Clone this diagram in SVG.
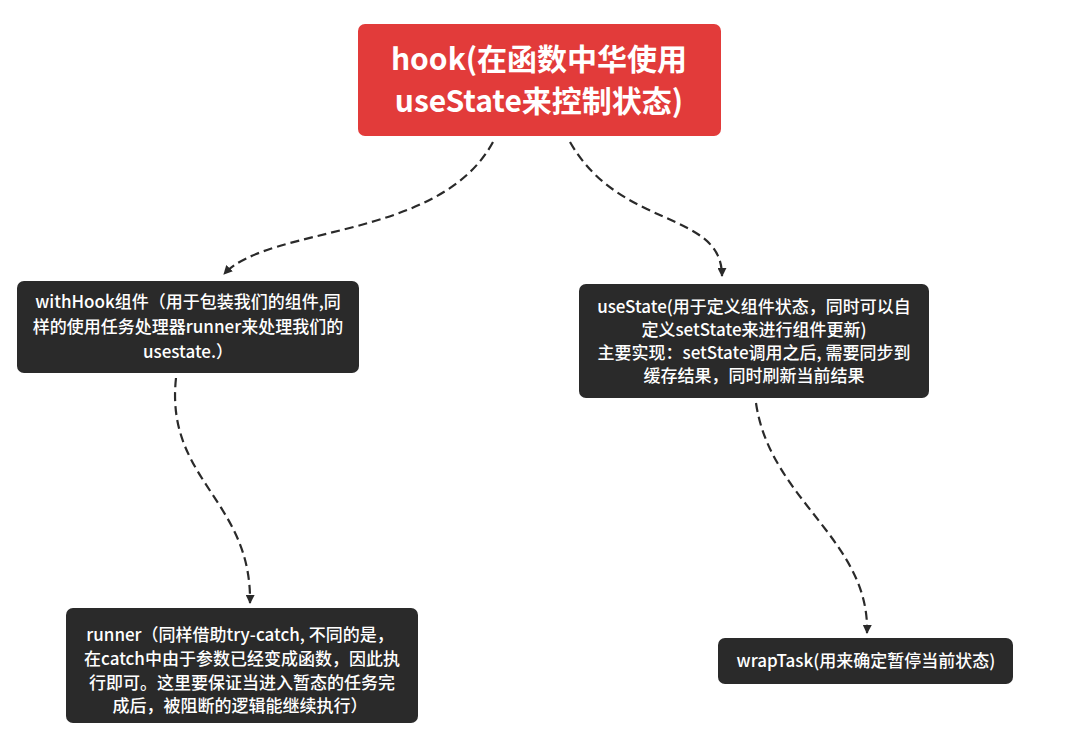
<svg xmlns="http://www.w3.org/2000/svg" width="1078" height="746" viewBox="0 0 1078 746">
<style>
.t{font-family:"Noto Sans CJK SC","Noto Sans",sans-serif;fill:#fff;text-anchor:middle}
.root{font-size:30px;font-weight:700}
.n{font-size:17px;font-weight:500}
.box{fill:#2a2a2a}
.edge{fill:none;stroke:#2a2a2a;stroke-width:2.2;stroke-dasharray:9 5}
</style>
<defs>
<marker id="ah" viewBox="0 0 10 10" refX="9" refY="5" markerWidth="9" markerHeight="9" markerUnits="userSpaceOnUse" orient="auto">
<path d="M0,0 L10,5 L0,10 z" fill="#2a2a2a"/>
</marker>
</defs>
<rect width="1078" height="746" fill="#fff"/>
<g id="connectors">
<path class="edge" d="M493,142 C440,240 270,225 224,274" marker-end="url(#ah)"/>
<path class="edge" d="M570,142 C620,230 722,210 722,276" marker-end="url(#ah)"/>
<path class="edge" d="M176,378 C165,480 252,500 250,603" marker-end="url(#ah)"/>
<path class="edge" d="M756,403 C770,500 870,540 867,633" marker-end="url(#ah)"/>
</g>
<g id="root">
<rect x="358" y="24" width="363" height="112" rx="7" fill="#e23b3a"/>
<text class="t root" x="539" y="70">hook(在函数中华使用</text>
<text class="t root" x="539" y="112">useState来控制状态)</text>
</g>
<g id="withHook">
<rect class="box" x="17" y="281" width="342" height="92" rx="7"/>
<text class="t n" x="188" y="308">withHook组件（用于包装我们的组件,同</text>
<text class="t n" x="188" y="333">样的使用任务处理器runner来处理我们的</text>
<text class="t n" x="188" y="358">usestate.）</text>
</g>
<g id="useState">
<rect class="box" x="579" y="284" width="350" height="114" rx="7"/>
<text class="t n" x="754" y="313">useState(用于定义组件状态，同时可以自</text>
<text class="t n" x="754" y="336">定义setState来进行组件更新)</text>
<text class="t n" x="754" y="359">主要实现：setState调用之后, 需要同步到</text>
<text class="t n" x="754" y="382">缓存结果，同时刷新当前结果</text>
</g>
<g id="runner">
<rect class="box" x="66" y="608" width="352" height="115" rx="7"/>
<text class="t n" x="240" y="641">runner（同样借助try-catch, 不同的是，</text>
<text class="t n" x="242" y="665">在catch中由于参数已经变成函数，因此执</text>
<text class="t n" x="242" y="689">行即可。这里要保证当进入暂态的任务完</text>
<text class="t n" x="240" y="712">成后，被阻断的逻辑能继续执行）</text>
</g>
<g id="wrapTask">
<rect class="box" x="718" y="638" width="295" height="46" rx="7"/>
<text class="t n" x="866" y="667">wrapTask(用来确定暂停当前状态)</text>
</g>
</svg>
